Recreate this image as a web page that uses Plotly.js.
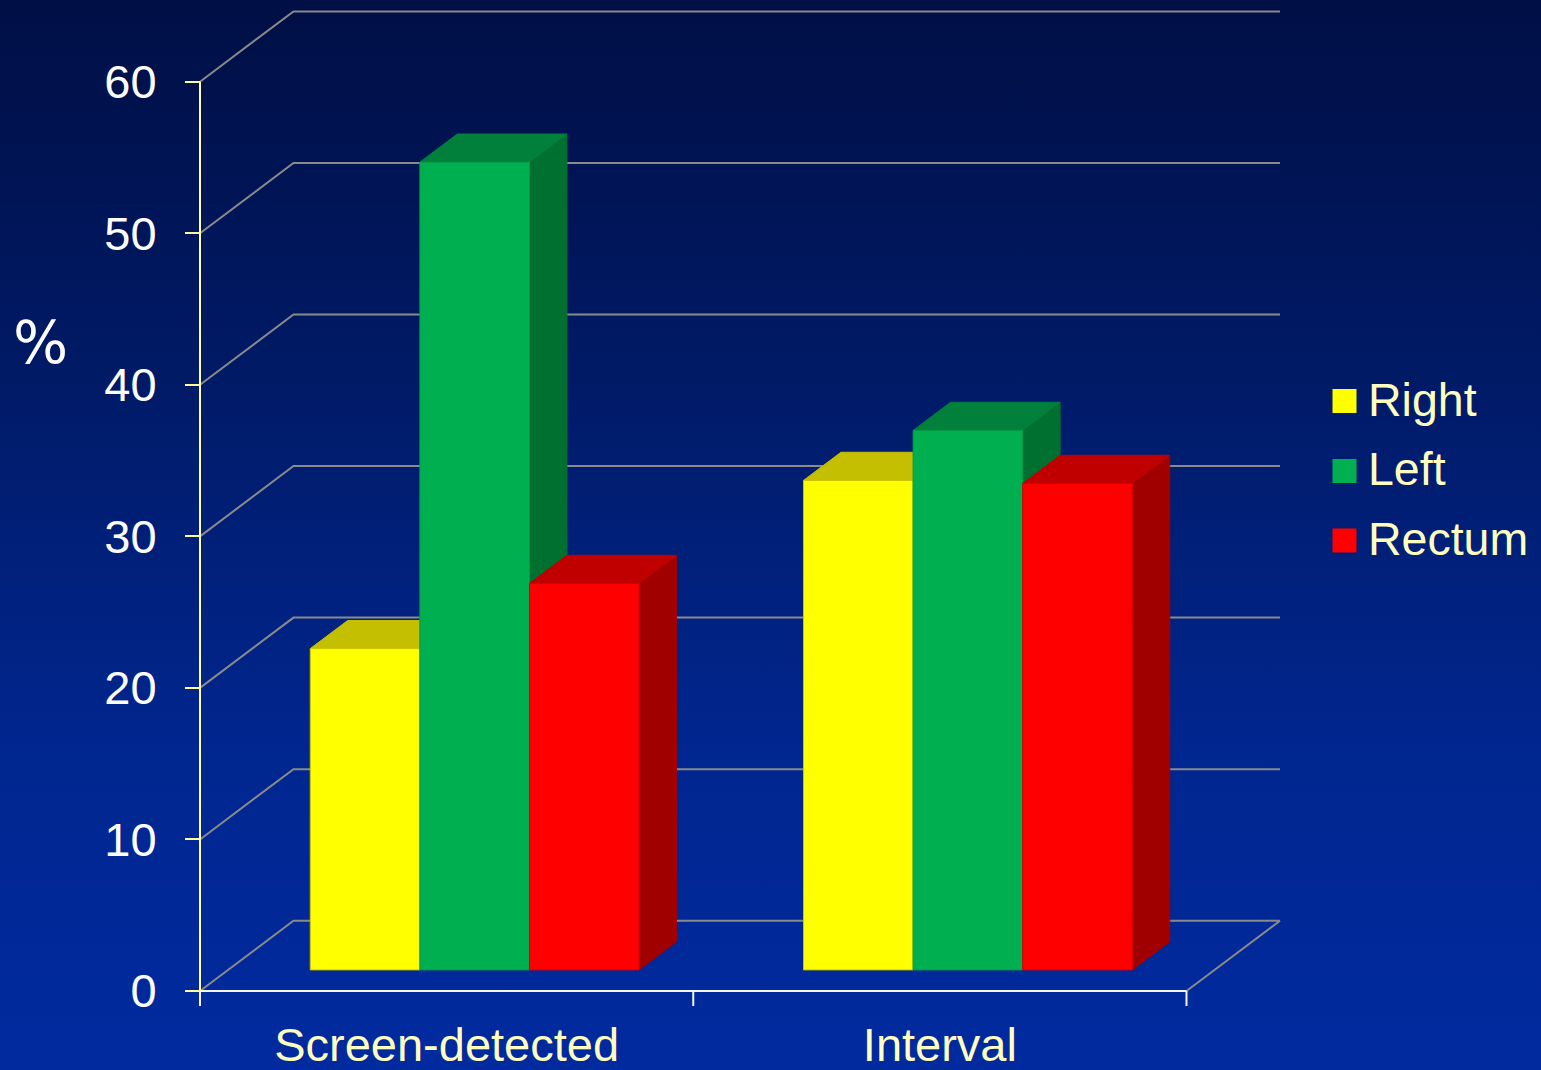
<!DOCTYPE html>
<html>
<head>
<meta charset="utf-8">
<script src="https://cdn.plot.ly/plotly-3.0.1.min.js"></script>
<style>
  html, body {
    margin: 0; padding: 0; width: 1541px; height: 1070px; overflow: hidden;
    background: linear-gradient(to bottom, #000F45 0%, #001A66 35%, #00268F 70%, #002A9F 100%);
  }
  #chart { width: 1541px; height: 1070px; }
</style>
</head>
<body>
<div id="chart"></div>
<script>
// ---- data ----
const categories = ['Screen-detected', 'Interval'];
const seriesNames = ['Right', 'Left', 'Rectum'];
const rightValues = [21.2, 32.3];
const leftValues = [53.3, 35.6];
const rectumValues = [25.5, 32.1];
const yTickValues = [0, 10, 20, 30, 40, 50, 60];

// ---- colours (front / top / side face of each series) ----
const frontColors = ['#FFFF00', '#00B050', '#FF0000'];
const topColors = ['#C4BF00', '#00803A', '#C00000'];
const sideColors = ['#9E9A00', '#007030', '#A00000'];
const edgeColors = ['#C8C400', '#009A45', '#D80000'];

// ---- page geometry ----
const W = 1541, H = 1070;
const CAT_PX = 493.25;      // pixels per category along the front axis
const UNIT_PX = 15.155;     // pixels per percentage point
const ZERO_PX = 991;        // pixel row of the front baseline
const AXIS_PX = 200;        // pixel column of the value axis
const PLOT_BOTTOM = 1010;   // bottom of the plotting area

// oblique depth of the chart box, in data units
const wallDx = 93.5 / CAT_PX;
const wallDy = 70.3 / UNIT_PX;
// bars sit between these fractions of the depth
const barFront = 0.3, barBack = 0.7;
const barW = 2 / 9, groupStart = 1 / 6;
const nCats = categories.length;
const seriesValues = [rightValues, leftValues, rectumValues];

const traces = [];

// side wall, back wall gridlines and floor outline
const wx = [], wy = [];
yTickValues.forEach(v => {
  wx.push(0, wallDx, nCats + wallDx, null);
  wy.push(v, v + wallDy, v + wallDy, null);
});
wx.push(nCats, nCats + wallDx);
wy.push(0, wallDy);
traces.push({
  type: 'scatter', mode: 'lines', x: wx, y: wy,
  line: { color: '#8A8A8A', width: 2 }, hoverinfo: 'skip', showlegend: false
});

// front axis and its category tick marks
const ax = [0, nCats, null], ay = [0, 0, null];
for (let k = 0; k <= nCats; k++) { ax.push(k, k, null); ay.push(0, -15 / UNIT_PX, null); }
traces.push({
  type: 'scatter', mode: 'lines', x: ax, y: ay,
  line: { color: '#F4F4F4', width: 2 }, hoverinfo: 'skip', showlegend: false
});

// value axis line
traces.push({
  type: 'scatter', mode: 'lines',
  x: [0, 0], y: [0, yTickValues[yTickValues.length - 1]],
  line: { color: '#FFFFB0', width: 2 }, hoverinfo: 'skip', showlegend: false
});

// 3-D bars: side, top, then front face, left to right
const ddx = (barBack - barFront) * wallDx;
const ddy = (barBack - barFront) * wallDy;
function face(xs, ys, fill, edge, name, hover) {
  return {
    type: 'scatter', mode: 'lines', fill: 'toself', x: xs, y: ys,
    fillcolor: fill, line: { color: edge, width: 1 },
    name: name, showlegend: false,
    hoverinfo: hover ? 'text' : 'skip', text: hover || ''
  };
}
categories.forEach((cat, i) => {
  seriesValues.forEach((vals, j) => {
    const v = vals[i];
    const x0 = i + groupStart + j * barW + barFront * wallDx;
    const x1 = x0 + barW;
    const y0 = barFront * wallDy;
    const y1 = y0 + v;
    traces.push(face([x1, x1 + ddx, x1 + ddx, x1, x1],
                     [y0, y0 + ddy, y1 + ddy, y1, y0],
                     sideColors[j], sideColors[j], seriesNames[j]));
    traces.push(face([x0, x1, x1 + ddx, x0 + ddx, x0],
                     [y1, y1, y1 + ddy, y1 + ddy, y1],
                     topColors[j], topColors[j], seriesNames[j]));
    traces.push(face([x0, x1, x1, x0, x0],
                     [y0, y0, y1, y1, y0],
                     frontColors[j], edgeColors[j], seriesNames[j],
                     cat + ' – ' + seriesNames[j] + ': ' + v + '%'));
  });
});

// ---- legend (drawn with shapes and annotations) ----
const px = p => p / W;
const py = p => (PLOT_BOTTOM - p) / PLOT_BOTTOM;
const legendRows = [401, 471, 540.5];
const shapes = [];
const annotations = [];
seriesNames.forEach((name, j) => {
  const c = legendRows[j];
  shapes.push({
    type: 'rect', xref: 'paper', yref: 'paper',
    x0: px(1332.5), x1: px(1356.5), y0: py(c + 12), y1: py(c - 12),
    fillcolor: frontColors[j], line: { width: 0 }
  });
  annotations.push({
    xref: 'paper', yref: 'paper', x: px(1366), y: py(c - 1.5),
    xanchor: 'left', yanchor: 'middle', showarrow: false, text: name,
    font: { family: 'Liberation Sans, Arial, sans-serif', size: 46.5, color: '#FFFFC0' }
  });
});
annotations.push({
  xref: 'paper', yref: 'paper', x: px(40), y: py(343),
  xanchor: 'center', yanchor: 'middle', showarrow: false, text: '%',
  font: { family: 'DejaVu Sans, Verdana, sans-serif', size: 58, color: '#FFFFFF' }
});

const layout = {
  width: W, height: H,
  margin: { l: 0, r: 0, t: 0, b: H - PLOT_BOTTOM, pad: 0 },
  paper_bgcolor: 'rgba(0,0,0,0)',
  plot_bgcolor: 'rgba(0,0,0,0)',
  showlegend: false,
  hovermode: 'closest',
  xaxis: {
    range: [-AXIS_PX / CAT_PX, (W - AXIS_PX) / CAT_PX],
    showgrid: false, zeroline: false, showline: false,
    tickmode: 'array', tickvals: categories.map((c, i) => i + 0.5), ticktext: categories,
    ticks: '', ticklabelstandoff: 3,
    tickfont: { family: 'Liberation Sans, Arial, sans-serif', size: 47, color: '#FFFFC0' },
    fixedrange: true
  },
  yaxis: {
    range: [-(PLOT_BOTTOM - ZERO_PX) / UNIT_PX, ZERO_PX / UNIT_PX],
    anchor: 'free', position: AXIS_PX / W,
    showgrid: false, zeroline: false, showline: false,
    tickmode: 'array', tickvals: yTickValues,
    ticks: 'outside', ticklen: 15, tickwidth: 2, tickcolor: '#FFFF99',
    ticklabelstandoff: 19,
    tickfont: { family: 'Liberation Sans, Arial, sans-serif', size: 47, color: '#FFFFFF' },
    fixedrange: true
  },
  shapes: shapes,
  annotations: annotations
};

Plotly.newPlot('chart', traces, layout, { displayModeBar: false, staticPlot: false });
</script>
</body>
</html>
